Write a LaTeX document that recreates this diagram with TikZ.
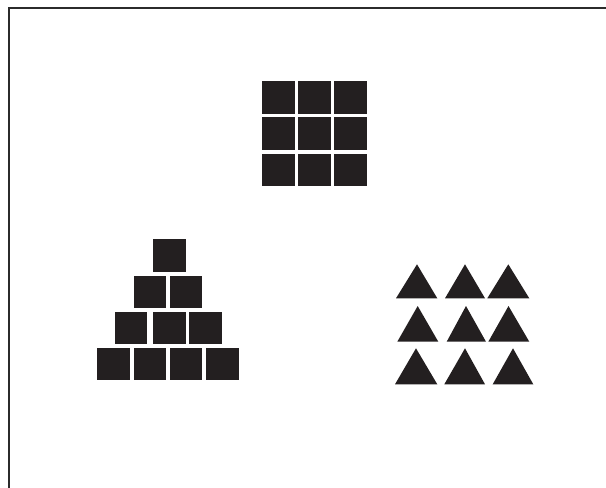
\documentclass[tikz,border=0pt]{standalone}
\usepackage{xcolor}
\usepackage{tikz}
\definecolor{FigInk}{HTML}{231F20}
\definecolor{FigFrame}{HTML}{2B2B2B}

\begin{document}
\begin{tikzpicture}[x=1pt,y=-1pt]
\path[use as bounding box] (0,0) rectangle (606,488);
\draw[FigFrame,line width=1.5pt] (9,488) -- (9,8) -- (606,8);
% square grid
\fill[FigInk] (262,81) rectangle (294.5,113.5);
\fill[FigInk] (298,81) rectangle (330.5,113.5);
\fill[FigInk] (334,81) rectangle (366.5,113.5);
\fill[FigInk] (262,117) rectangle (294.5,149.5);
\fill[FigInk] (298,117) rectangle (330.5,149.5);
\fill[FigInk] (334,117) rectangle (366.5,149.5);
\fill[FigInk] (262,153.5) rectangle (294.5,186);
\fill[FigInk] (298,153.5) rectangle (330.5,186);
\fill[FigInk] (334,153.5) rectangle (366.5,186);
% pyramid
\fill[FigInk] (152.7,239) rectangle (185.7,271.7);
\fill[FigInk] (133.7,275.7) rectangle (166.3,308);
\fill[FigInk] (170,275.7) rectangle (202.3,308);
\fill[FigInk] (115,312) rectangle (147.3,344);
\fill[FigInk] (152.7,312) rectangle (185.7,344);
\fill[FigInk] (189,312) rectangle (221.7,344);
\fill[FigInk] (97.3,348.3) rectangle (130,380);
\fill[FigInk] (133.7,348.3) rectangle (166.3,380);
\fill[FigInk] (170,348.3) rectangle (202.3,380);
\fill[FigInk] (206.3,348.3) rectangle (238.7,380);
% triangles
\fill[FigInk] (396,298.3) -- (417,264.3) -- (437.3,298.3) -- cycle;
\fill[FigInk] (445,298.3) -- (465,264.3) -- (485,298.3) -- cycle;
\fill[FigInk] (487.3,298.3) -- (508.3,264.3) -- (529.3,298.3) -- cycle;
\fill[FigInk] (397.3,341.7) -- (417.7,306) -- (438.3,341.7) -- cycle;
\fill[FigInk] (446.7,341.7) -- (466,306) -- (486,341.7) -- cycle;
\fill[FigInk] (488.3,341.7) -- (508.5,306) -- (529.3,341.7) -- cycle;
\fill[FigInk] (395,384.3) -- (416,348.3) -- (437.3,384.3) -- cycle;
\fill[FigInk] (444.3,384.3) -- (465,348.3) -- (485,384.3) -- cycle;
\fill[FigInk] (492.7,384.3) -- (513,348.3) -- (533.3,384.3) -- cycle;
\end{tikzpicture}
\end{document}
